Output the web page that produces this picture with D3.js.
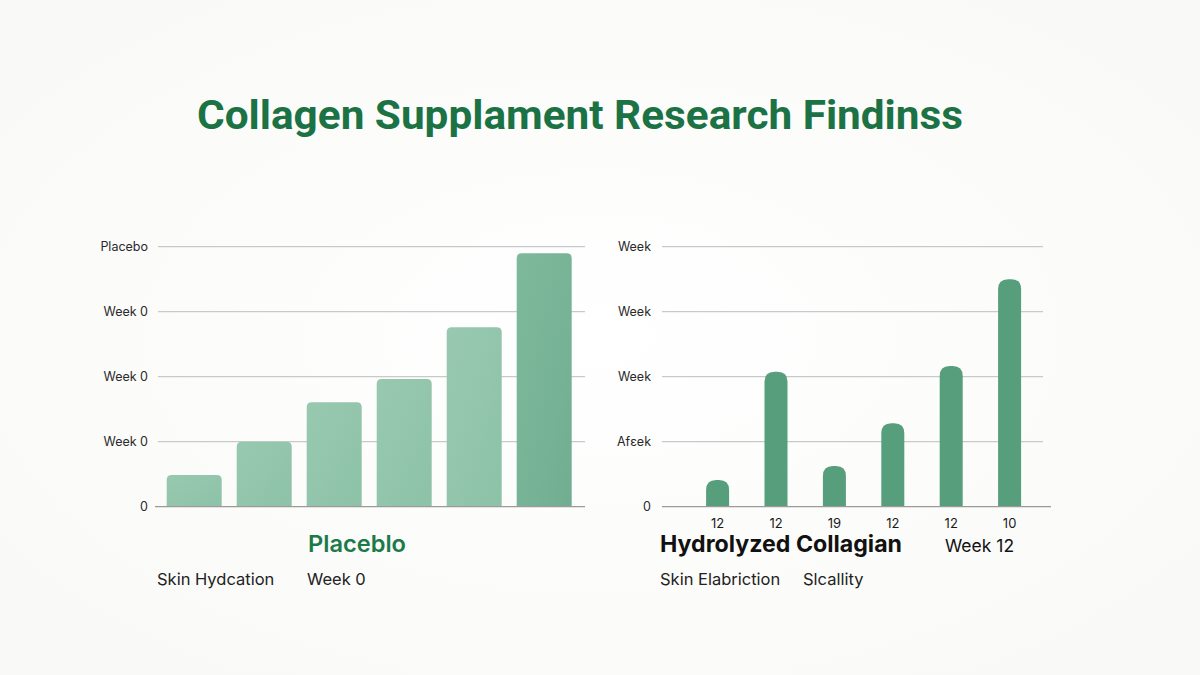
<!DOCTYPE html>
<html><head><meta charset="utf-8">
<script src="https://cdn.jsdelivr.net/npm/d3@7"></script>
<style>
html,body{margin:0;padding:0;background:#fcfcfb;}
svg{display:block;font-family:"Inter","Noto Sans",sans-serif;}
</style></head>
<body><svg id="c" width="1200" height="675"></svg>
<script>
// ---- data ----
const title = "Collagen Supplament Research Findinss";
const leftCategories = ["p1","p2","p3","p4","p5","p6"];
const leftValues = [12.2, 25, 40.2, 49.1, 69, 97.5];
const leftTickValues = [0, 25, 50, 75, 100];
const leftTickLabels = ["0", "Week 0", "Week 0", "Week 0", "Placebo"];
const rightCategories = ["c1","c2","c3","c4","c5","c6"];
const rightValues = [10.3, 51.9, 15.7, 32.1, 54.1, 87.5];
const rightXLabels = ["12", "12", "19", "12", "12", "10"];
const rightTickValues = [0, 25, 50, 75, 100];
const rightTickLabels = ["0", "Af\u025Bek", "Week", "Week", "Week"];
const leftTitle = "Placeblo";
const leftSub = ["Skin Hydcation", "Week 0"];
const rightTitle = ["Hydrolyzed Collagian", "Week 12"];
const rightSub = ["Skin Elabriction", "Slcallity"];

const svg = d3.select("#c");

// background vignette
const defs = svg.append("defs");
const rg = defs.append("radialGradient").attr("id","bg").attr("cx","50%").attr("cy","50%").attr("r","75%");
rg.append("stop").attr("offset","0%").attr("stop-color","#ffffff");
rg.append("stop").attr("offset","100%").attr("stop-color","#f8f8f6");
svg.append("rect").attr("width",1200).attr("height",675).attr("fill","url(#bg)");

const lg = defs.append("linearGradient").attr("id","lbar").attr("x1","0").attr("y1","0").attr("x2","1").attr("y2","1");
lg.append("stop").attr("offset","0%").attr("stop-color","#98c9b0");
lg.append("stop").attr("offset","100%").attr("stop-color","#8dc2a8");
const lg2 = defs.append("linearGradient").attr("id","lbar2").attr("x1","0").attr("y1","0").attr("x2","1").attr("y2","1");
lg2.append("stop").attr("offset","0%").attr("stop-color","#7fb99c");
lg2.append("stop").attr("offset","100%").attr("stop-color","#71ae91");

// title
svg.append("text").attr("x",580).attr("y",129).attr("text-anchor","middle")
  .attr("font-family","Roboto, sans-serif")
  .attr("font-size",40).attr("font-weight",700).attr("fill","#1b7244")
  .attr("textLength",766).attr("lengthAdjust","spacingAndGlyphs")
  .text(title);

// top-rounded bar path
function topRounded(x, y, w, h, r){
  r = Math.min(r, w/2, h);
  return `M${x},${y+h}V${y+r}Q${x},${y} ${x+r},${y}H${x+w-r}Q${x+w},${y} ${x+w},${y+r}V${y+h}Z`;
}

// ---- left chart ----
const yL = d3.scaleLinear().domain([0,100]).range([506.7, 246.7]);
const xL = d3.scaleBand().domain(leftCategories).range([166.7-7.5, 571.7+7.5]).paddingInner(15/70).paddingOuter(0.5*15/70);
const gL = svg.append("g");
const axL = d3.axisLeft(yL).tickValues(leftTickValues).tickSize(0).tickPadding(0)
  .tickFormat((d,i)=>leftTickLabels[i]);
gL.append("g").attr("transform","translate(148,0)").call(axL)
  .call(g=>g.select(".domain").remove())
  .call(g=>g.selectAll("text").attr("font-size",12.5).attr("fill","#2a2a2a").attr("font-family","Inter, sans-serif"));
gL.selectAll(".gl").data(leftTickValues.slice(1)).join("line")
  .attr("x1",158).attr("x2",585).attr("y1",d=>yL(d)).attr("y2",d=>yL(d))
  .attr("stroke","#c9c9c9").attr("stroke-width",1.2);
gL.selectAll(".bar").data(leftValues).join("path")
  .attr("d",(d,i)=>topRounded(xL(leftCategories[i]), yL(d), xL.bandwidth(), yL(0)-yL(d), 5))
  .attr("fill",(d,i)=>i===leftValues.length-1?"url(#lbar2)":"url(#lbar)");
gL.append("line").attr("x1",155).attr("x2",585).attr("y1",yL(0)).attr("y2",yL(0))
  .attr("stroke","#9a9a9a").attr("stroke-width",1.3);

// ---- right chart ----
const yR = d3.scaleLinear().domain([0,100]).range([506.7, 246.7]);
const xR = d3.scaleBand().domain(rightCategories).range([717.6-29.2, 1009.6+29.2]).paddingInner(1-23/58.4).paddingOuter((1-23/58.4)/2);
const gR = svg.append("g");
const axR = d3.axisLeft(yR).tickValues(rightTickValues).tickSize(0).tickPadding(0)
  .tickFormat((d,i)=>rightTickLabels[i]);
gR.append("g").attr("transform","translate(651,0)").call(axR)
  .call(g=>g.select(".domain").remove())
  .call(g=>g.selectAll("text").attr("font-size",12.5).attr("fill","#2a2a2a").attr("font-family","Inter, sans-serif"));
gR.selectAll(".gl").data(rightTickValues.slice(1)).join("line")
  .attr("x1",662).attr("x2",1043).attr("y1",d=>yR(d)).attr("y2",d=>yR(d))
  .attr("stroke","#c9c9c9").attr("stroke-width",1.2);
gR.selectAll(".bar").data(rightValues).join("path")
  .attr("d",(d,i)=>topRounded(xR(rightCategories[i]), yR(d), xR.bandwidth(), yR(0)-yR(d), 10))
  .attr("fill","#569e7c");
gR.append("line").attr("x1",662).attr("x2",1051).attr("y1",yR(0)).attr("y2",yR(0))
  .attr("stroke","#9a9a9a").attr("stroke-width",1.3);
const axRx = d3.axisBottom(xR).tickSize(0).tickPadding(0).tickFormat((d,i)=>rightXLabels[i]);
gR.append("g").attr("transform","translate(0,519)").call(axRx)
  .call(g=>g.select(".domain").remove())
  .call(g=>g.selectAll("text").attr("font-size",13).attr("fill","#1a1a1a").attr("font-family","Inter, sans-serif"));

// ---- captions ----
svg.append("text").attr("x",357).attr("y",552).attr("text-anchor","middle")
  .attr("font-size",23).attr("font-weight",600).attr("fill","#1b7a48")
  .attr("textLength",98).attr("lengthAdjust","spacingAndGlyphs").text(leftTitle);
svg.append("text").attr("x",157).attr("y",585).attr("font-size",16.5).attr("fill","#222").text(leftSub[0]);
svg.append("text").attr("x",307).attr("y",585).attr("font-size",16.5).attr("fill","#222").text(leftSub[1]);
svg.append("text").attr("x",660).attr("y",552).attr("font-size",23).attr("font-weight",700).attr("fill","#111")
  .attr("textLength",242).attr("lengthAdjust","spacingAndGlyphs").text(rightTitle[0]);
svg.append("text").attr("x",945).attr("y",552).attr("font-size",17.5).attr("fill","#111").text(rightTitle[1]);
svg.append("text").attr("x",660).attr("y",585).attr("font-size",16.5).attr("fill","#222").text(rightSub[0]);
svg.append("text").attr("x",803).attr("y",585).attr("font-size",16.5).attr("fill","#222").text(rightSub[1]);
</script></body></html>
